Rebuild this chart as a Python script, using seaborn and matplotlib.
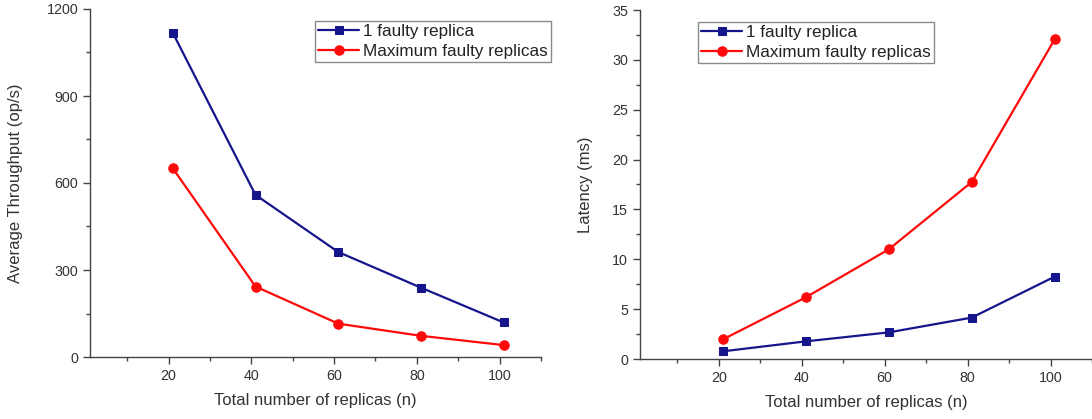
import matplotlib
matplotlib.use("Agg")
import matplotlib.pyplot as plt
from matplotlib.ticker import MultipleLocator
import seaborn as sns
import pandas as pd

replicas = [21, 41, 61, 81, 101]
thr_one = [1118, 559, 362, 239, 119]
thr_max = [651, 243, 115, 73, 41]
lat_one = [0.77, 1.77, 2.67, 4.15, 8.26]
lat_max = [1.97, 6.19, 11.0, 17.75, 32.06]
series_names = ["1 faulty replica", "Maximum faulty replicas"]
xlabel = "Total number of replicas (n)"
ylabels = ["Average Throughput (op/s)", "Latency (ms)"]

sns.set_theme(style="ticks")
plt.rcParams["font.family"] = ["Liberation Sans", "DejaVu Sans"]

BLUE = "#15158c"
RED = "#ff0a0a"
TXT = "#333333"
SP = "#444444"

fig = plt.figure(figsize=(10.92, 4.19), dpi=100)
axL = fig.add_axes([90/1092, 1-357/419, 451/1092, 348/419])
axR = fig.add_axes([640/1092, 1-359/419, 452/1092, 349/419])

panels = [
    (axL, thr_one, thr_max, (0, 1200), 300, 150, ylabels[0],
     (315/1092, 1-21/419), (23-90)/451),
    (axR, lat_one, lat_max, (0, 35), 5, 2.5, ylabels[1],
     (698/1092, 1-22/419), (593-640)/452),
]

for ax, one, mx, ylim, maj, mnr, ylab, anchor, ylx in panels:
    df1 = pd.DataFrame({"x": replicas, "y": one})
    df2 = pd.DataFrame({"x": replicas, "y": mx})
    sns.lineplot(data=df1, x="x", y="y", ax=ax, color=BLUE, marker="s",
                 markersize=6, markeredgecolor=BLUE, linewidth=1.6,
                 label=series_names[0], clip_on=False)
    sns.lineplot(data=df2, x="x", y="y", ax=ax, color=RED, marker="o",
                 markersize=6.8, markeredgecolor=RED, linewidth=1.6,
                 label=series_names[1], clip_on=False)
    ax.set_xlim(1, 110)
    ax.set_ylim(*ylim)
    ax.xaxis.set_major_locator(MultipleLocator(20))
    ax.xaxis.set_minor_locator(MultipleLocator(10))
    ax.yaxis.set_major_locator(MultipleLocator(maj))
    ax.yaxis.set_minor_locator(MultipleLocator(mnr))
    ax.tick_params(which="major", direction="out", length=5, width=1,
                   color=SP, labelsize=10.3, labelcolor=TXT, pad=3.5)
    ax.tick_params(which="minor", direction="out", length=3, width=1, color=SP)
    for s in ["top", "right"]:
        ax.spines[s].set_visible(False)
    for s in ["left", "bottom"]:
        ax.spines[s].set_color(SP)
        ax.spines[s].set_linewidth(1)
    ax.set_xlabel(xlabel, fontsize=12, color=TXT, labelpad=7)
    ax.set_ylabel(ylab, fontsize=12, color=TXT)
    ax.yaxis.set_label_coords(ylx, 0.5)
    leg = ax.legend(loc="upper left", bbox_to_anchor=anchor,
                    bbox_transform=fig.transFigure, borderaxespad=0,
                    fontsize=12.3, frameon=True, fancybox=False,
                    edgecolor="#8a8a8a", framealpha=1, borderpad=0.2,
                    labelspacing=0.25, handlelength=2.4, handletextpad=0.2)
    leg.get_frame().set_linewidth(1)
    for t in leg.get_texts():
        t.set_color("#222222")

fig.savefig("out.png", dpi=100)
